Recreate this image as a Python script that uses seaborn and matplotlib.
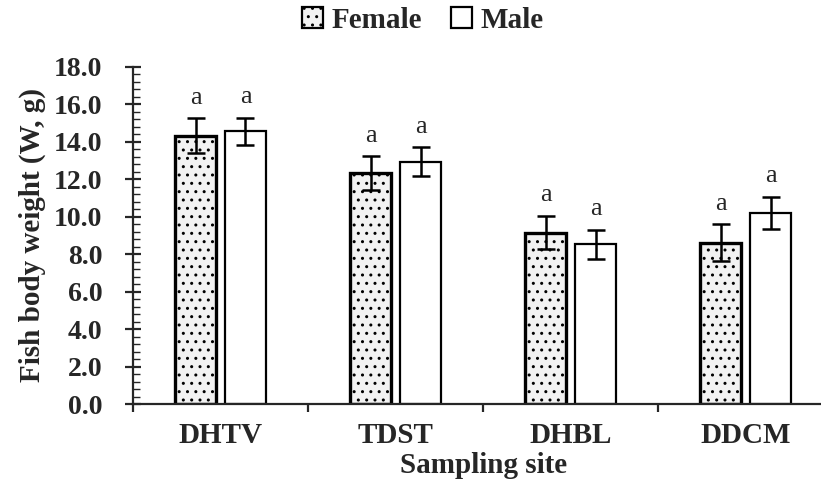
import numpy as np
import pandas as pd
import seaborn as sns
import matplotlib.pyplot as plt
from matplotlib.ticker import MultipleLocator, FormatStrFormatter
from matplotlib.patches import Patch

# data
sites = ['DHTV', 'TDST', 'DHBL', 'DDCM']
female = [14.32, 12.32, 9.15, 8.62]
male = [14.55, 12.93, 8.52, 10.19]
female_err = [0.93, 0.90, 0.90, 0.97]
male_err = [0.73, 0.78, 0.78, 0.87]
female_letters = ['a', 'a', 'a', 'a']
male_letters = ['a', 'a', 'a', 'a']

df = pd.DataFrame({
    'site': sites * 2,
    'sex': ['Female'] * 4 + ['Male'] * 4,
    'weight': female + male,
})

sns.set_style('ticks')
plt.rcParams['font.family'] = ['Liberation Serif', 'DejaVu Serif']
plt.rcParams['hatch.color'] = '#8c8c8c'
plt.rcParams['hatch.linewidth'] = 1.0

fig = plt.figure(figsize=(8.21, 4.91), dpi=100)
ax = fig.add_axes([0.162, 0.177, 0.853, 0.687])

sns.barplot(data=df, x='site', y='weight', hue='sex', order=sites,
            hue_order=['Female', 'Male'], palette=['#f2f2f2', 'white'],
            width=0.57, gap=0.18, errorbar=None, legend=False, ax=ax)

# bar styling and error bars
n = len(sites)
bars = ax.patches
for i, b in enumerate(bars):
    b.set_edgecolor('black')
    if i < n:
        b.set_hatch('..')
        b.set_linewidth(2.4)
    else:
        b.set_linewidth(1.6)

vals = female + male
errs = female_err + male_err
letters = female_letters + male_letters
for b, v, e, t in zip(bars, vals, errs, letters):
    cx = b.get_x() + b.get_width() / 2
    ax.errorbar(cx, v, yerr=e, fmt='none', ecolor='black', elinewidth=1.8,
                capsize=6.5, capthick=1.8)
    ax.text(cx, v + e + 0.5, t, ha='center', va='bottom', fontsize=19)

ax.set_xlim(-0.5, n - 0.5)
ax.set_ylim(0, 18)
ax.yaxis.set_major_locator(MultipleLocator(2))
ax.yaxis.set_minor_locator(MultipleLocator(0.4))
ax.yaxis.set_major_formatter(FormatStrFormatter('%.1f'))
ax.tick_params(axis='y', which='major', direction='inout', length=12, width=1.6,
               labelsize=20, pad=16)
ax.tick_params(axis='y', which='minor', direction='in', length=5, width=1.0)
for lab in ax.get_yticklabels():
    lab.set_fontweight('bold')

# x ticks at category boundaries
ax.set_xticks(np.arange(n))
ax.set_xticklabels(sites, fontsize=21, fontweight='bold')
ax.tick_params(axis='x', which='major', length=0, pad=13)
ax.set_xticks(np.arange(n) - 0.5, minor=True)
ax.tick_params(axis='x', which='minor', direction='out', length=6, width=1.6)

for s in ['top', 'right']:
    ax.spines[s].set_visible(False)
for s in ['left', 'bottom']:
    ax.spines[s].set_linewidth(1.6)

ax.set_xlabel('Sampling site', fontsize=21, fontweight='bold', labelpad=2)
ax.set_ylabel('Fish body weight (W, g)', fontsize=21, fontweight='bold', labelpad=6)

handles = [Patch(facecolor='#f2f2f2', edgecolor='black', hatch='..', linewidth=1.6),
           Patch(facecolor='white', edgecolor='black', linewidth=1.6)]
fig.legend(handles, ['Female', 'Male'], loc='upper center', bbox_to_anchor=(0.515, 1.04),
           ncol=2, frameon=False, handlelength=0.7, handleheight=0.7,
           handletextpad=0.3, columnspacing=1.0,
           prop={'family': 'Liberation Serif', 'weight': 'bold', 'size': 21})

fig.savefig('out.png', dpi=100)
